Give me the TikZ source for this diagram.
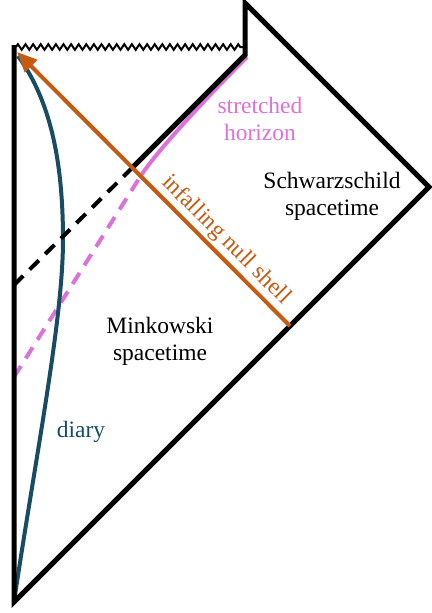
\documentclass[tikz,border=0pt]{standalone}
\usepackage{fontspec}
\setmainfont{Liberation Serif}
\usetikzlibrary{arrows.meta, decorations.pathmorphing}
\definecolor{shell}{RGB}{197,90,17}
\definecolor{diary}{RGB}{24,76,101}
\definecolor{stretch}{RGB}{219,114,216}

\begin{document}
\begin{tikzpicture}[x=1pt,y=-1pt,
    lbl/.style={font=\fontsize{23.5}{27}\selectfont, align=center},
    dashline/.style={line width=4pt, dash pattern=on 13pt off 9pt}]
    \useasboundingbox (0,0) rectangle (431,613);
    % corners of the diagram
    \coordinate (bot) at (14,602);
    \coordinate (topL) at (14,45);
    \coordinate (singL) at (16,47);
    \coordinate (singR) at (243,47);
    \coordinate (topR) at (245,3);
    \coordinate (right) at (429,187);
    \coordinate (hor) at (245,55);
    \coordinate (cross) at (132.5,167.5);
    \coordinate (origin) at (14,285);
    \coordinate (shellS) at (290,326);
    \coordinate (shellE) at (17,52);
    % stretched horizon
    \draw[stretch, line width=4pt] (140,177) .. controls (156,152) and (207,97) .. (247,57);
    \draw[stretch, dashline] (14,377) -- (140,177);
    % diary
    \draw[diary, line width=4pt] (bot) .. controls (35,460) and (63,320) .. (63,240)
        .. controls (63,160) and (50,100) .. (18,56);
    % horizon
    \draw[black, dashline] (origin) -- (cross);
    \draw[black, line width=5pt] (cross) -- (hor) -- (topR) -- (right) -- (bot) -- (topL);
    \draw[line width=2pt, decorate, decoration={zigzag, segment length=7.6pt, amplitude=2.8pt}] (singL) -- (singR);
    % infalling shell
    \draw[shell, line width=4pt, -{Triangle[length=20pt,width=17pt]}] (shellS) -- (shellE);
    \node[lbl, text=stretch] (stretchlbl) at (260,119) {stretched\\horizon};
    \node[lbl] (schwlbl) at (332,196) {Schwarzschild\\spacetime};
    \node[lbl] (minklbl) at (160,341) {Minkowski\\spacetime};
    \node[lbl, text=shell, rotate=-45] (shelllbl) at (226,240) {infalling null shell};
    \node[lbl, text=diary] (diarylbl) at (81,432) {diary};
\end{tikzpicture}
\end{document}
